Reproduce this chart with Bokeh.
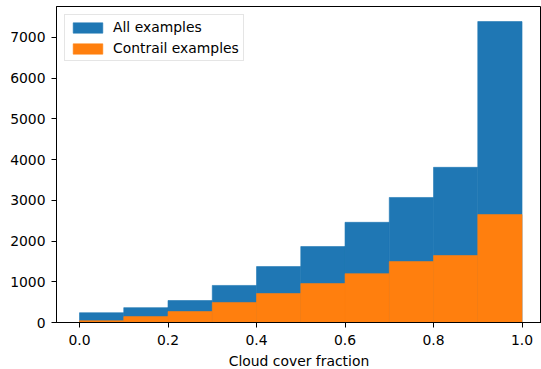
from bokeh.plotting import figure
from bokeh.models import FixedTicker, PrintfTickFormatter, Range1d, Legend, LegendItem, ColumnDataSource
from bokeh.embed import file_html
from bokeh.resources import INLINE

# Histogram data (bins of width 0.1 on cloud cover fraction)
bin_left = [0.0, 0.1, 0.2, 0.3, 0.4, 0.5, 0.6, 0.7, 0.8, 0.9]
bin_right = [0.1, 0.2, 0.3, 0.4, 0.5, 0.6, 0.7, 0.8, 0.9, 1.0]
all_counts = [240, 365, 540, 910, 1373, 1865, 2460, 3070, 3810, 7390]
contrail_counts = [45, 145, 270, 492, 712, 956, 1200, 1496, 1645, 2650]
x_ticks = [0.0, 0.2, 0.4, 0.6, 0.8, 1.0]
y_ticks = [0, 1000, 2000, 3000, 4000, 5000, 6000, 7000]

FONT = "DejaVu Sans"
FS = "13.9px"

src = ColumnDataSource(dict(left=bin_left, right=bin_right,
                            all=all_counts, contrail=contrail_counts,
                            bottom=[0] * len(bin_left)))

p = figure(frame_width=485, frame_height=316,
           x_range=Range1d(-0.052, 1.044),
           y_range=Range1d(0, max(all_counts) * 1.05),
           output_backend="svg", toolbar_location=None,
           min_border_left=56, min_border_right=0, min_border_top=6,
           min_border_bottom=10)

r_all = p.quad(left="left", right="right", bottom="bottom", top="all", source=src,
               fill_color="#1f77b4", line_color="#1f77b4", line_width=0.6)
r_con = p.quad(left="left", right="right", bottom="bottom", top="contrail", source=src,
               fill_color="#ff7f0e", line_color="#ff7f0e", line_width=0.6)

p.xgrid.visible = False
p.ygrid.visible = False
p.outline_line_color = "black"
p.outline_line_width = 1
p.background_fill_color = "white"
p.border_fill_color = "white"

p.xaxis.ticker = FixedTicker(ticks=x_ticks)
p.xaxis.formatter = PrintfTickFormatter(format="%.1f")
p.yaxis.ticker = FixedTicker(ticks=y_ticks)
p.xaxis.axis_label = "Cloud cover fraction"

for ax in (p.xaxis[0], p.yaxis[0]):
    ax.major_tick_out = 5
    ax.major_tick_in = 0
    ax.minor_tick_out = 0
    ax.minor_tick_in = 0
    ax.major_tick_line_color = "black"
    ax.axis_line_color = "black"
    ax.major_label_text_font = FONT
    ax.major_label_text_font_size = FS
    ax.major_label_text_color = "black"
    ax.major_label_standoff = 6
    ax.axis_label_text_font = FONT
    ax.axis_label_text_font_size = FS
    ax.axis_label_text_font_style = "normal"
    ax.axis_label_text_color = "black"
p.xaxis.major_label_standoff = 7
p.xaxis.axis_label_standoff = 5

legend = Legend(items=[LegendItem(label="All examples", renderers=[r_all]),
                       LegendItem(label="Contrail examples", renderers=[r_con])],
                location="top_left")
legend.margin = 8
legend.padding = 4
legend.spacing = 5
legend.glyph_width = 37
legend.glyph_height = 13
legend.label_height = 12
legend.label_standoff = 7
legend.label_text_font = FONT
legend.label_text_font_size = FS
legend.label_text_color = "black"
legend.border_line_color = "#cccccc"
legend.border_line_width = 1
legend.background_fill_alpha = 0.8
p.add_layout(legend)

open("out.html", "w").write(file_html(p, INLINE))
